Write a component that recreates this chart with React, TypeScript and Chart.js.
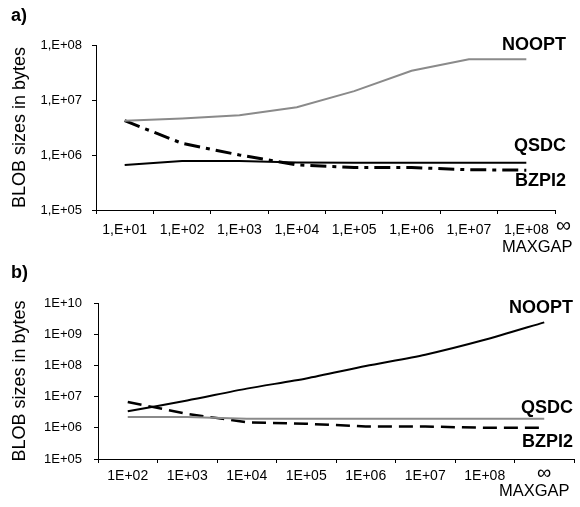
import React, { useEffect, useRef } from 'react';
import { Chart, registerables } from 'chart.js';

Chart.register(...registerables);

const FONT = 'Arial, "Liberation Sans", sans-serif';

// ---- Panel a) ----
const categoriesA = ['1,E+01', '1,E+02', '1,E+03', '1,E+04', '1,E+05', '1,E+06', '1,E+07', '1,E+08'];
const nooptA = [4.2e6, 4.6e6, 5.3e6, 7.4e6, 1.45e7, 3.4e7, 5.5e7, 5.5e7];
const qsdcA = [6.6e5, 7.8e5, 7.8e5, 7.3e5, 7.2e5, 7.2e5, 7.2e5, 7.2e5];
const bzpi2A = [4.2e6, 1.63e6, 1.0e6, 6.6e5, 5.9e5, 5.9e5, 5.4e5, 5.3e5];
const yTickValuesA = [1e5, 1e6, 1e7, 1e8];
const yTickLabelsA = ['1,E+05', '1,E+06', '1,E+07', '1,E+08'];

// ---- Panel b) ----
const categoriesB = ['1E+02', '1E+03', '1E+04', '1E+05', '1E+06', '1E+07', '1E+08', '∞'];
const nooptB = [3.4e6, 7.5e6, 1.8e7, 3.8e7, 9.5e7, 2.2e8, 6.6e8, 2.4e9];
const qsdcB = [2.2e6, 2.2e6, 1.95e6, 1.95e6, 1.95e6, 1.95e6, 1.95e6, 1.95e6];
const bzpi2B = [6.7e6, 2.8e6, 1.5e6, 1.35e6, 1.1e6, 1.1e6, 1.0e6, 1.0e6];
const yTickValuesB = [1e5, 1e6, 1e7, 1e8, 1e9, 1e10];
const yTickLabelsB = ['1E+05', '1E+06', '1E+07', '1E+08', '1E+09', '1E+10'];

const GRAY = '#8a8a8a';

type TextItem = { text: string; x: number; y: number; align: CanvasTextAlign; font: string };

function textPlugin(items: TextItem[]) {
  return {
    id: 'annotTexts',
    afterDraw(chart: any) {
      const ctx = chart.ctx as CanvasRenderingContext2D;
      ctx.save();
      ctx.fillStyle = '#000';
      ctx.textBaseline = 'middle';
      for (const it of items) {
        ctx.font = it.font;
        ctx.textAlign = it.align;
        ctx.fillText(it.text, it.x, it.y);
      }
      ctx.restore();
    },
  };
}

type PanelSpec = {
  categories: string[];
  datasets: any[];
  yMin: number;
  yMax: number;
  yTickValues: number[];
  yTickLabels: string[];
  yWidth: number;
  xHeight: number;
  padTop: number;
  padRight: number;
  yTickPad: number;
  xTickPad: number;
  texts: TextItem[];
};

function makeConfig(s: PanelSpec): any {
  return {
    type: 'line',
    data: { labels: s.categories, datasets: s.datasets },
    options: {
      animation: false,
      responsive: false,
      maintainAspectRatio: false,
      devicePixelRatio: 1,
      layout: { padding: { top: s.padTop, right: s.padRight, left: 0, bottom: 0 } },
      plugins: { legend: { display: false }, tooltip: { enabled: false }, title: { display: false } },
      elements: { point: { radius: 0 } },
      scales: {
        x: {
          type: 'category',
          offset: true,
          grid: { offset: true, drawOnChartArea: false, drawTicks: true, tickLength: 4, color: '#000', lineWidth: 1 },
          border: { display: true, color: '#000', width: 1 },
          ticks: {
            maxRotation: 0,
            minRotation: 0,
            autoSkip: false,
            padding: s.xTickPad,
            color: '#000',
            font: (ctx: any) => {
              const lbl = s.categories[ctx.index];
              return lbl === '∞'
                ? { family: FONT, size: 20, lineHeight: 0.5 }
                : { family: FONT, size: 14 };
            },
          },
          afterFit: (scale: any) => {
            scale.height = s.xHeight;
          },
        },
        y: {
          type: 'logarithmic',
          min: s.yMin,
          max: s.yMax,
          grid: { drawOnChartArea: false, drawTicks: true, tickLength: 4, color: '#000', lineWidth: 1 },
          border: { display: true, color: '#000', width: 1 },
          afterBuildTicks: (scale: any) => {
            scale.ticks = s.yTickValues.map((v) => ({ value: v }));
          },
          ticks: {
            padding: s.yTickPad,
            color: '#000',
            font: { family: FONT, size: 13 },
            callback: (value: any) => {
              const i = s.yTickValues.indexOf(Number(value));
              return i >= 0 ? s.yTickLabels[i] : '';
            },
          },
          title: {
            display: true,
            text: 'BLOB sizes in bytes',
            color: '#000',
            font: { family: FONT, size: 18 },
            padding: { top: 9, bottom: 0 },
          },
          afterFit: (scale: any) => {
            scale.width = s.yWidth;
          },
        },
      },
    },
    plugins: [textPlugin(s.texts)],
  };
}

const specA: PanelSpec = {
  categories: categoriesA,
  datasets: [
    { label: 'NOOPT', data: nooptA, borderColor: GRAY, borderWidth: 2, tension: 0, fill: false },
    { label: 'QSDC', data: qsdcA, borderColor: '#000', borderWidth: 2, tension: 0, fill: false },
    {
      label: 'BZPI2',
      data: bzpi2A,
      borderColor: '#000',
      borderWidth: 3,
      borderDash: [16, 6, 4, 6],
      tension: 0,
      fill: false,
    },
  ],
  yMin: 1e5,
  yMax: 1e8,
  yTickValues: yTickValuesA,
  yTickLabels: yTickLabelsA,
  yWidth: 96,
  xHeight: 48,
  padTop: 45,
  padRight: 25,
  yTickPad: 10,
  xTickPad: 8,
  texts: [
    { text: 'a)', x: 11, y: 16.5, align: 'left', font: `bold 18px ${FONT}` },
    { text: 'NOOPT', x: 566, y: 45.5, align: 'right', font: `bold 18px ${FONT}` },
    { text: 'QSDC', x: 566, y: 146.5, align: 'right', font: `bold 18px ${FONT}` },
    { text: 'BZPI2', x: 566, y: 181.5, align: 'right', font: `bold 18px ${FONT}` },
    { text: '∞', x: 563.5, y: 226, align: 'center', font: `21px ${FONT}` },
    { text: 'MAXGAP', x: 502, y: 247.5, align: 'left', font: `16.5px ${FONT}` },
  ],
};

const specB: PanelSpec = {
  categories: categoriesB,
  datasets: [
    { label: 'NOOPT', data: nooptB, borderColor: '#000', borderWidth: 2, tension: 0.25, fill: false },
    { label: 'QSDC', data: qsdcB, borderColor: GRAY, borderWidth: 2, tension: 0, fill: false },
    {
      label: 'BZPI2',
      data: bzpi2B,
      borderColor: '#000',
      borderWidth: 2.5,
      borderDash: [14, 7],
      tension: 0,
      fill: false,
    },
  ],
  yMin: 1e5,
  yMax: 1e10,
  yTickValues: yTickValuesB,
  yTickLabels: yTickLabelsB,
  yWidth: 98,
  xHeight: 48,
  padTop: 50,
  padRight: 6,
  yTickPad: 12,
  xTickPad: 5,
  texts: [
    { text: 'b)', x: 11, y: 20, align: 'left', font: `bold 18px ${FONT}` },
    { text: 'NOOPT', x: 573, y: 55.5, align: 'right', font: `bold 18px ${FONT}` },
    { text: 'QSDC', x: 573, y: 155.5, align: 'right', font: `bold 18px ${FONT}` },
    { text: 'BZPI2', x: 573, y: 189.5, align: 'right', font: `bold 18px ${FONT}` },
    { text: 'MAXGAP', x: 499, y: 238, align: 'left', font: `16.5px ${FONT}` },
  ],
};

function Panel({ spec, top, height, z }: { spec: PanelSpec; top: number; height: number; z: number }) {
  const ref = useRef<HTMLCanvasElement | null>(null);
  useEffect(() => {
    if (!ref.current) return;
    const chart = new Chart(ref.current, makeConfig(spec));
    return () => chart.destroy();
  }, [spec]);
  return (
    <canvas
      ref={ref}
      width={580}
      height={height}
      style={{ position: 'absolute', left: 0, top, width: 580, height, display: 'block', zIndex: z }}
    />
  );
}

export default function App() {
  return (
    <div
      style={{
        position: 'fixed',
        left: 0,
        top: 0,
        width: 580,
        height: 507,
        background: '#fff',
        overflow: 'hidden',
      }}
    >
      <Panel spec={specA} top={0} height={258} z={2} />
      <Panel spec={specB} top={253} height={254} z={1} />
    </div>
  );
}
